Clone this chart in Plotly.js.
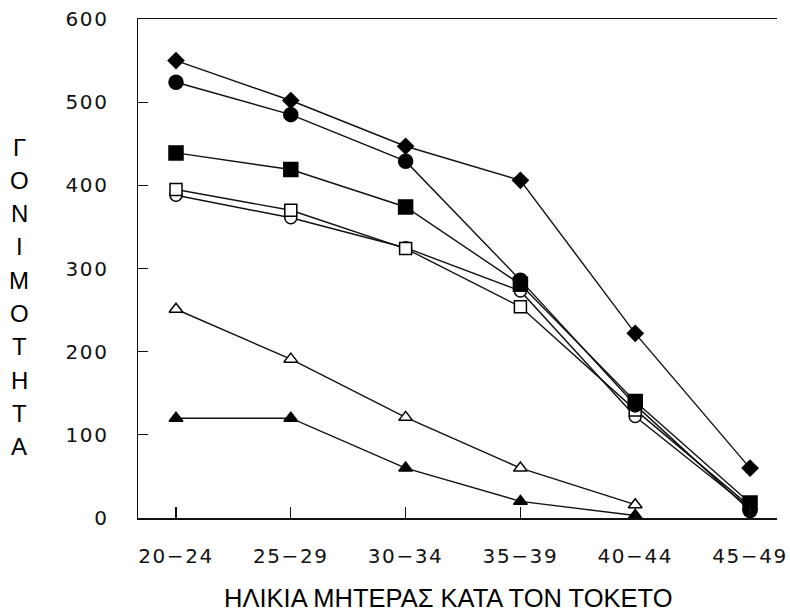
<!DOCTYPE html>
<html>
<head>
<meta charset="utf-8">
<script src="https://cdn.plot.ly/plotly-3.0.1.min.js"></script>
<style>
  html, body { margin: 0; padding: 0; background: #fff; }
  .xtick text, .ytick text { letter-spacing: 1.6px; }
</style>
</head>
<body>
<div id="chart" style="width:790px;height:614px;"></div>
<script>
// Age groups of mother at delivery
const categories = ["20−24", "25−29", "30−34", "35−39", "40−44", "45−49"];
// Fertility values per series
const filledDiamond  = [550, 502, 447, 406, 222, 60];
const filledCircle   = [524, 485, 429, 286, 136, 9];
const filledSquare   = [439, 419, 374, 281, 140, 18];
const openSquare     = [395, 370, 324, 254, 130, 14];
const openCircle     = [388, 361, 325, 273, 122, 12];
const openTriangle   = [251, 191, 121, 60, 16];
const filledTriangle = [120, 120, 60, 20, 3];
const yTicks = [0, 100, 200, 300, 400, 500, 600];
const yTitle = "ΓΟΝΙΜΟΤΗΤΑ";
const xTitle = "ΗΛΙΚΙΑ ΜΗΤΕΡΑΣ ΚΑΤΑ ΤΟΝ ΤΟΚΕΤΟ";

function tr(vals, symbol, size, filled) {
  return {
    x: categories.slice(0, vals.length),
    y: vals,
    type: "scatter",
    mode: "lines+markers",
    line: { color: "#111", width: 1.4 },
    marker: {
      symbol: symbol,
      size: size,
      color: filled ? "#000" : "#fff",
      line: { color: "#000", width: 1.5 }
    },
    cliponaxis: false,
    hoverinfo: "skip"
  };
}

const data = [
  tr(openTriangle, "triangle-up", 12, false),
  tr(filledTriangle, "triangle-up", 12, true),
  tr(openCircle, "circle", 12, false),
  tr(openSquare, "square", 12, false),
  tr(filledCircle, "circle", 14, true),
  tr(filledSquare, "square", 14, true),
  tr(filledDiamond, "diamond", 12, true)
];

// vertical stacked y title letters
const annotations = [];
const letters = Array.from(yTitle);
letters.forEach((ch, i) => {
  annotations.push({
    text: ch,
    xref: "paper", yref: "paper",
    x: (19 - 138) / 639, y: (518 - (147 + i * 33.3)) / 499,
    xanchor: "center", yanchor: "middle",
    showarrow: false,
    font: { family: "Liberation Sans, Arial, sans-serif", size: 24, color: "#000" }
  });
});
annotations.push({
  text: xTitle,
  xref: "paper", yref: "paper",
  x: (448 - 138) / 639, y: (518 - 598) / 499,
  xanchor: "center", yanchor: "middle",
  showarrow: false,
  font: { family: "Liberation Sans, Arial, sans-serif", size: 25.5, color: "#000" }
});

const layout = {
  width: 790, height: 614,
  margin: { l: 138, r: 13, t: 19, b: 96 },
  paper_bgcolor: "#fff", plot_bgcolor: "#fff",
  showlegend: false,
  xaxis: {
    type: "category",
    range: [-0.331, 5.235],
    showgrid: false, zeroline: false,
    showline: true, linecolor: "#111", linewidth: 1.5,
    mirror: true,
    ticks: "inside", ticklen: 11, tickwidth: 1.2, tickcolor: "#111",
    ticklabelstandoff: 19,
    tickfont: { family: "DejaVu Sans, sans-serif", size: 20, color: "#111" },
    fixedrange: true
  },
  yaxis: {
    range: [0, 600],
    tickvals: yTicks,
    showgrid: false, zeroline: false,
    showline: true, linecolor: "#111", linewidth: 1.5,
    ticks: "inside", ticklen: 10, tickwidth: 1.2, tickcolor: "#111",
    ticklabelstandoff: 24,
    tickfont: { family: "DejaVu Sans, sans-serif", size: 20, color: "#111" },
    fixedrange: true
  },
  annotations: annotations
};

Plotly.newPlot("chart", data, layout, { displayModeBar: false, staticPlot: true });
</script>
</body>
</html>
